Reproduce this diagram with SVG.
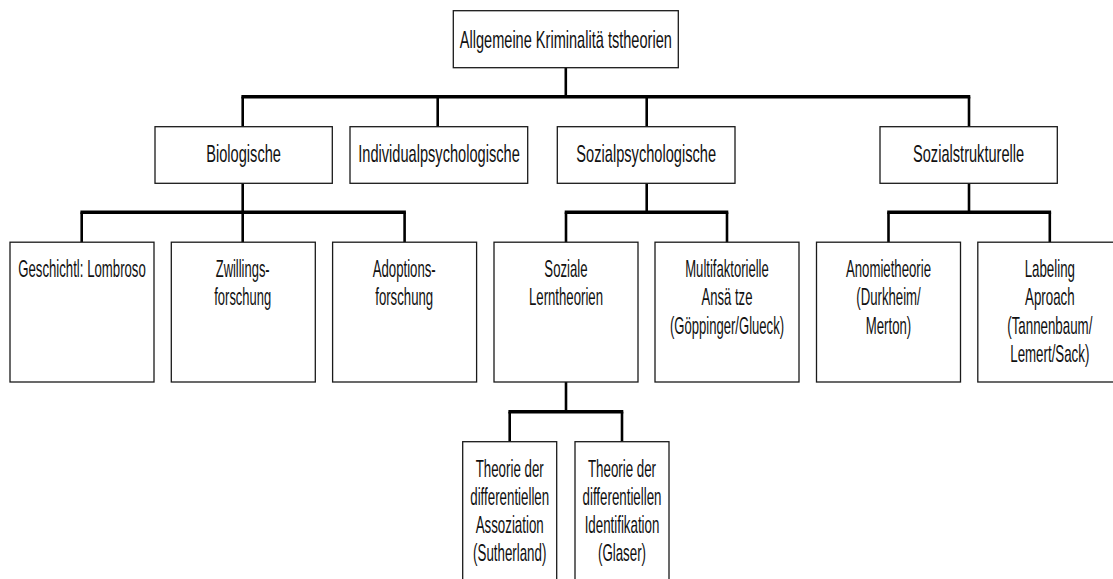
<svg xmlns="http://www.w3.org/2000/svg" width="1113" height="579" viewBox="0 0 1113 579">
<style>
.box{fill:#fff;stroke:#1a1a1a;stroke-width:1.3}
.t{font-family:"Liberation Sans",Arial,sans-serif;font-size:24px;fill:#111;text-anchor:middle}
.bar{stroke:#000;stroke-width:3.6;fill:none}
.v{stroke:#000;stroke-width:2.6;fill:none}
</style>
<rect width="1113" height="579" fill="#fff"/>
<g id="connectors">
<line class="v" x1="565.8" y1="67.7" x2="565.8" y2="96.7"/>
<line class="bar" x1="241.4" y1="96.7" x2="970.3" y2="96.7"/>
<line class="v" x1="242.7" y1="96.7" x2="242.7" y2="126.7"/>
<line class="v" x1="437.7" y1="96.7" x2="437.7" y2="126.7"/>
<line class="v" x1="646.7" y1="96.7" x2="646.7" y2="126.7"/>
<line class="v" x1="969" y1="96.7" x2="969" y2="126.7"/>
<line class="v" x1="242.7" y1="183.3" x2="242.7" y2="212.3"/>
<line class="bar" x1="80.4" y1="212.3" x2="405.9" y2="212.3"/>
<line class="v" x1="81.7" y1="212.3" x2="81.7" y2="242.2"/>
<line class="v" x1="242.7" y1="212.3" x2="242.7" y2="242.2"/>
<line class="v" x1="404.6" y1="212.3" x2="404.6" y2="242.2"/>
<line class="v" x1="646.7" y1="183.3" x2="646.7" y2="212.3"/>
<line class="bar" x1="564.7" y1="212.3" x2="728.3" y2="212.3"/>
<line class="v" x1="566" y1="212.3" x2="566" y2="242.2"/>
<line class="v" x1="727" y1="212.3" x2="727" y2="242.2"/>
<line class="v" x1="969" y1="183.3" x2="969" y2="212.3"/>
<line class="bar" x1="887.2" y1="212.3" x2="1051.1" y2="212.3"/>
<line class="v" x1="888.5" y1="212.3" x2="888.5" y2="242.2"/>
<line class="v" x1="1049.8" y1="212.3" x2="1049.8" y2="242.2"/>
<line class="v" x1="566" y1="382" x2="566" y2="411.7"/>
<line class="bar" x1="508.4" y1="411.7" x2="623.3" y2="411.7"/>
<line class="v" x1="509.7" y1="411.7" x2="509.7" y2="441.7"/>
<line class="v" x1="622" y1="411.7" x2="622" y2="441.7"/>
</g>
<g id="root">
<rect class="box" x="453.3" y="10.7" width="225" height="57"/>
<text class="t" transform="translate(565.8 48.3) scale(0.607 1)">Allgemeine Kriminalitä tstheorien</text>
</g>
<g id="biologische">
<rect class="box" x="155" y="126.7" width="177.3" height="56.6"/>
<text class="t" transform="translate(243.6 162.3) scale(0.609 1)">Biologische</text>
</g>
<g id="individualpsychologische">
<rect class="box" x="350" y="126.7" width="177.7" height="56.6"/>
<text class="t" transform="translate(439 162.3) scale(0.609 1)">Individualpsychologische</text>
</g>
<g id="sozialpsychologische">
<rect class="box" x="557.3" y="126.7" width="177.7" height="56.6"/>
<text class="t" transform="translate(646.2 162.3) scale(0.609 1)">Sozialpsychologische</text>
</g>
<g id="sozialstrukturelle">
<rect class="box" x="880" y="126.7" width="177.3" height="56.6"/>
<text class="t" transform="translate(968.6 162.3) scale(0.609 1)">Sozialstrukturelle</text>
</g>
<g id="geschichtl">
<rect class="box" x="10" y="242.2" width="144" height="139.8"/>
<text class="t" transform="translate(82 276.7) scale(0.55 1)">Geschichtl: Lombroso</text>
</g>
<g id="zwillingsforschung">
<rect class="box" x="171.3" y="242.2" width="144" height="139.8"/>
<text class="t" transform="translate(242.7 276.7) scale(0.54 1)"><tspan x="0" y="0">Zwillings-</tspan><tspan x="0" y="28.5">forschung</tspan></text>
</g>
<g id="adoptionsforschung">
<rect class="box" x="332.6" y="242.2" width="144" height="139.8"/>
<text class="t" transform="translate(404.2 276.7) scale(0.55 1)"><tspan x="0" y="0">Adoptions-</tspan><tspan x="0" y="28.5">forschung</tspan></text>
</g>
<g id="soziale-lerntheorien">
<rect class="box" x="494" y="242.2" width="144" height="139.8"/>
<text class="t" transform="translate(566 276.7) scale(0.55 1)"><tspan x="0" y="0">Soziale</tspan><tspan x="0" y="28.5">Lerntheorien</tspan></text>
</g>
<g id="multifaktorielle">
<rect class="box" x="655" y="242.2" width="144" height="139.8"/>
<text class="t" transform="translate(727 276.7) scale(0.545 1)"><tspan x="0" y="0">Multifaktorielle</tspan><tspan x="0" y="28.5">Ansä tze</tspan><tspan x="0" y="57">(Göppinger/Glueck)</tspan></text>
</g>
<g id="anomietheorie">
<rect class="box" x="816.5" y="242.2" width="144" height="139.8"/>
<text class="t" transform="translate(888.5 276.7) scale(0.55 1)"><tspan x="0" y="0">Anomietheorie</tspan><tspan x="0" y="28.5">(Durkheim/</tspan><tspan x="0" y="57">Merton)</tspan></text>
</g>
<g id="labeling">
<rect class="box" x="977.8" y="242.2" width="144" height="139.8"/>
<text class="t" transform="translate(1049.8 276.7) scale(0.555 1)"><tspan x="0" y="0">Labeling</tspan><tspan x="0" y="28.5">Aproach</tspan><tspan x="0" y="57">(Tannenbaum/</tspan><tspan x="0" y="85.5">Lemert/Sack)</tspan></text>
</g>
<g id="assoziation">
<rect class="box" x="462.7" y="441.7" width="94" height="160"/>
<text class="t" transform="translate(509.7 476.7) scale(0.555 1)"><tspan x="0" y="0">Theorie der</tspan><tspan x="0" y="28">differentiellen</tspan><tspan x="0" y="56">Assoziation</tspan><tspan x="0" y="84">(Sutherland)</tspan></text>
</g>
<g id="identifikation">
<rect class="box" x="575" y="441.7" width="94" height="160"/>
<text class="t" transform="translate(622 476.7) scale(0.555 1)"><tspan x="0" y="0">Theorie der</tspan><tspan x="0" y="28">differentiellen</tspan><tspan x="0" y="56">Identifikation</tspan><tspan x="0" y="84">(Glaser)</tspan></text>
</g>
</svg>
